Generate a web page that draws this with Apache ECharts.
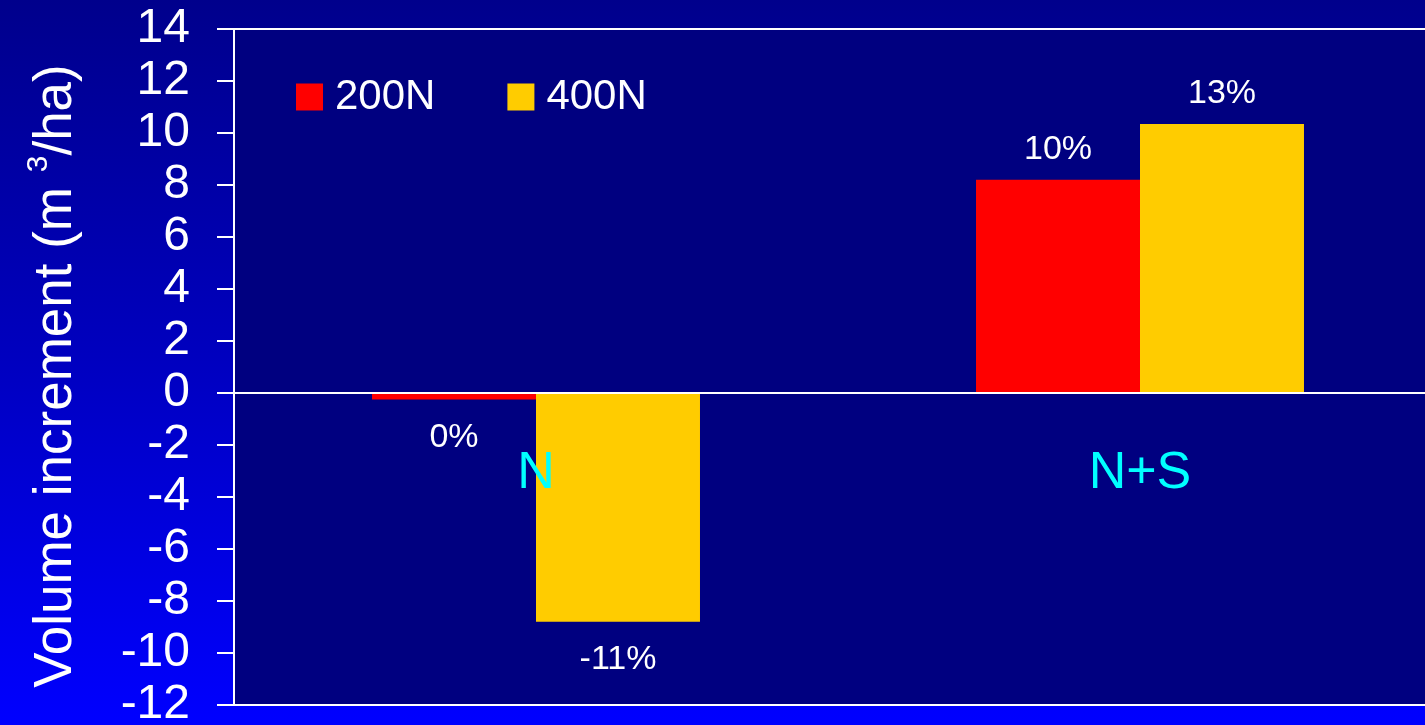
<!DOCTYPE html>
<html>
<head>
<meta charset="utf-8">
<script src="https://cdn.jsdelivr.net/npm/echarts@6/dist/echarts.min.js"></script>
<style>
  html, body { margin: 0; padding: 0; }
  #chart {
    width: 1425px;
    height: 725px;
    background: linear-gradient(to bottom, #00008c 0%, #0000c0 50%, #0000ff 100%);
  }
</style>
</head>
<body>
<div id="chart"></div>
<script>
// Treatments along the category axis
const categories = ['N', 'N+S'];
// Volume increment (m3/ha) for each nitrogen dose
const series200N = [-0.25, 8.2];
const series400N = [-8.8, 10.35];
// Relative change printed next to each bar
const pct200N = ['0%', '10%'];
const pct400N = ['-11%', '13%'];
// Value axis range
const yMin = -12;
const yMax = 14;
const yStep = 2;

const FONT = 'Liberation Sans, Arial, Helvetica, sans-serif';

// Plot box in pixels
const GRID_TOP = 29;
const GRID_BOTTOM = 20;
const CHART_H = 725;
// Distance from the bottom edge of the plot up to the zero line
const plotH = CHART_H - GRID_TOP - GRID_BOTTOM;
const zeroOffset = plotH * (0 - yMin) / (yMax - yMin);

function barData(values, labels) {
  return values.map((v, i) => ({
    value: v,
    label: {
      show: true,
      position: v < 0 ? 'bottom' : 'top',
      distance: v < 0 ? 21 : 13,
      formatter: labels[i]
    }
  }));
}

const valueLabel = {
  color: '#ffffff',
  fontSize: 34,
  fontFamily: FONT
};

const chart = echarts.init(document.getElementById('chart'), null, { renderer: 'canvas' });

chart.setOption({
  backgroundColor: 'transparent',
  animation: false,
  textStyle: { fontFamily: FONT },
  grid: {
    left: 234,
    top: GRID_TOP,
    bottom: GRID_BOTTOM,
    right: -17,
    containLabel: false,
    outerBoundsMode: 'none',
    show: true,
    backgroundColor: '#000080',
    borderColor: '#ffffff',
    borderWidth: 2
  },
  legend: {
    left: 296,
    top: 76,
    padding: 0,
    icon: 'rect',
    itemWidth: 27,
    itemHeight: 27,
    itemGap: 72,
    textStyle: {
      color: '#ffffff',
      fontSize: 42,
      fontFamily: FONT,
      lineHeight: 27,
      padding: [0, 0, 0, 7]
    },
    data: ['200N', '400N']
  },
  xAxis: {
    type: 'category',
    data: categories,
    z: 5,
    offset: -zeroOffset,
    axisLine: { show: true, onZero: false, lineStyle: { color: '#ffffff', width: 2 } },
    axisTick: { show: false },
    axisLabel: {
      color: '#00ffff',
      fontSize: 52,
      fontFamily: FONT,
      margin: 55
    },
    splitLine: { show: false }
  },
  yAxis: {
    type: 'value',
    min: yMin,
    max: yMax,
    interval: yStep,
    axisLine: { show: true, onZero: false, lineStyle: { color: '#ffffff', width: 2 } },
    axisTick: { show: true, length: 17, lineStyle: { color: '#ffffff', width: 2 } },
    axisLabel: {
      color: '#ffffff',
      fontSize: 48,
      fontFamily: FONT,
      margin: 44,
      padding: [10, 0, 0, 0],
      showMinLabel: true,
      showMaxLabel: true,
      hideOverlap: false
    },
    splitLine: { show: false },
    name: '{t|Volume increment (m }{s|3}{t|/ha)}',
    nameLocation: 'middle',
    nameGap: 146,
    nameTextStyle: {
      color: '#ffffff',
      fontFamily: FONT,
      padding: [0, 18, 0, 0],
      rich: {
        t: { fontSize: 53, color: '#ffffff', fontFamily: FONT },
        s: { fontSize: 30, color: '#ffffff', fontFamily: FONT, padding: [0, 0, 34, 0] }
      }
    }
  },
  series: [
    {
      name: '200N',
      type: 'bar',
      data: barData(series200N, pct200N),
      itemStyle: { color: '#ff0000' },
      label: valueLabel,
      barGap: '0%',
      barCategoryGap: '45.7%'
    },
    {
      name: '400N',
      type: 'bar',
      data: barData(series400N, pct400N),
      itemStyle: { color: '#ffcc00' },
      label: valueLabel,
      barGap: '0%',
      barCategoryGap: '45.7%'
    }
  ]
});
</script>
</body>
</html>
